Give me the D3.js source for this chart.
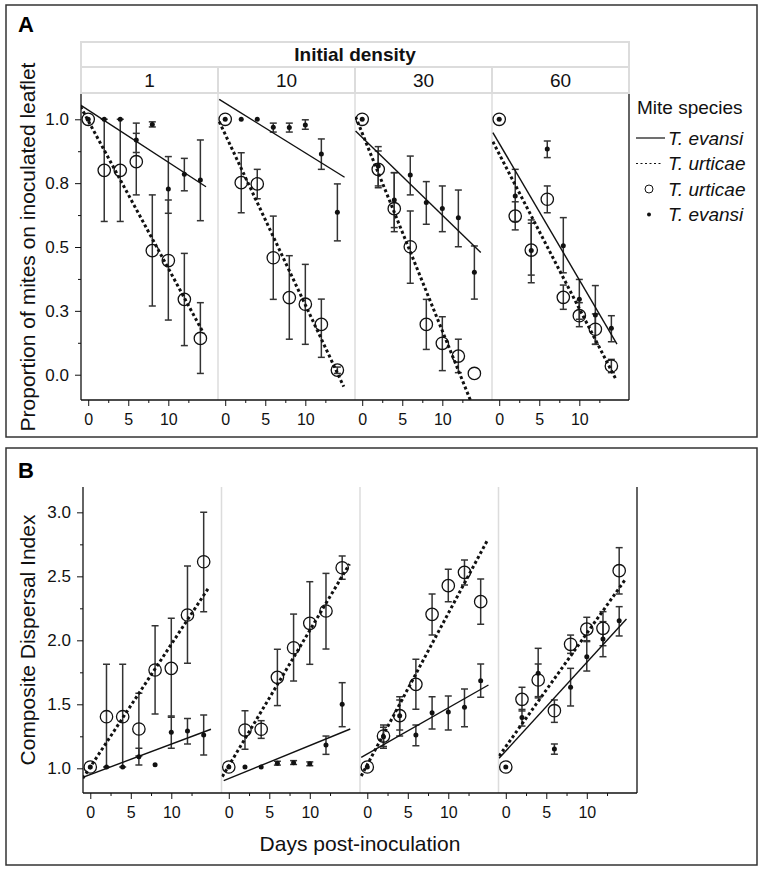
<!DOCTYPE html>
<html><head><meta charset="utf-8">
<script src="https://cdn.jsdelivr.net/npm/d3@7"></script>
<style>
body{margin:0;background:#fff;}
svg{display:block;font-family:"Liberation Sans",Arial,Helvetica,sans-serif;}
</style></head><body>
<svg id="chart" width="762" height="870"></svg>
<script>
// ---------------- DATA ----------------
const densities = ["1","10","30","60"];
const days = [0,2,4,6,8,10,12,14];
const xMajorTicks = [0,5,10];
const xMinorTicks = [2.5,7.5,12.5];

// Panel A: proportion of mites on inoculated leaflet
const aTicks = [0,0.25,0.5,0.75,1.0];
const aTickLabels = ["0.0","0.3","0.5","0.8","1.0"];
const aMinor = [0.125,0.375,0.625,0.875];

const aUrt = [
  [1.0,0.80,0.80,0.834,0.486,0.447,0.295,0.142],
  [1.0,0.752,0.747,0.458,0.302,0.276,0.197,0.018],
  [1.0,0.804,0.65,0.501,0.197,0.123,0.073,0.005],
  [1.0,0.621,0.488,0.687,0.303,0.231,0.178,0.034]];
const aUrtLo = [
  [null,0.60,0.60,0.704,0.269,0.214,0.114,0.005],
  [null,0.634,0.689,0.295,0.139,0.119,0.068,0.005],
  [null,0.739,0.56,0.358,0.099,0.016,0.008,null],
  [null,0.567,0.39,0.634,0.256,0.188,0.119,0.008]];
const aUrtHi = [
  [null,1.0,1.0,0.945,0.704,0.684,0.475,0.282],
  [null,0.869,0.804,0.621,0.466,0.432,0.296,0.03],
  [null,0.876,0.791,0.641,0.295,0.227,0.139,null],
  [null,0.677,0.593,0.739,0.351,0.282,0.238,0.06]];
const aEva = [
  [1.0,1.0,1.0,0.919,0.98,0.727,0.785,0.762],
  [1.0,1.0,1.0,0.969,0.968,0.978,0.864,0.636],
  [1.0,0.817,0.684,0.782,0.674,0.651,0.615,0.401],
  [1.0,0.70,0.486,0.884,0.505,0.295,0.234,0.182]];
const aEvaLo = [
  [null,null,null,0.87,0.97,0.632,0.72,0.603],
  [null,null,null,0.95,0.95,0.961,0.804,0.524],
  [null,0.732,0.576,0.704,0.589,0.56,0.501,0.296],
  [null,0.60,0.36,0.85,0.399,0.217,0.119,0.129]];
const aEvaHi = [
  [null,null,null,0.985,0.99,0.854,0.847,0.919],
  [null,null,null,0.985,0.985,0.998,0.923,0.747],
  [null,0.893,0.791,0.856,0.756,0.739,0.723,0.504],
  [null,0.804,0.606,0.915,0.615,0.373,0.349,0.231]];
// fitted lines: [[day, value],[day, value]]
const aLineEva = [
  [[-0.96,1.056],[14.7,0.736]],
  [[-0.75,1.078],[14.9,0.773]],
  [[-0.83,0.954],[14.8,0.478]],
  [[-0.79,0.948],[14.7,0.12]]];
const aLineUrt = [
  [[-0.96,1.05],[14.4,0.162]],
  [[-0.75,0.991],[14.8,-0.047]],
  [[-0.83,1.01],[14.8,-0.20]],
  [[-0.79,0.912],[14.5,-0.014]]];

// Panel B: composite dispersal index
const bTicks = [1.0,1.5,2.0,2.5,3.0];
const bTickLabels = ["1.0","1.5","2.0","2.5","3.0"];
const bMinor = [1.25,1.75,2.25,2.75];

const bUrt = [
  [1.01,1.403,1.403,1.307,1.768,1.781,2.198,2.614],
  [1.01,1.299,1.305,1.711,1.942,2.133,2.229,2.567],
  [1.01,1.252,1.411,1.656,2.203,2.427,2.531,2.302],
  [1.01,1.539,1.69,1.45,1.969,2.088,2.094,2.544]];
const bUrtLo = [
  [null,1.01,1.01,1.096,1.424,1.398,1.82,2.224],
  [null,1.148,1.234,1.49,1.682,1.8125,1.932,2.477],
  [null,1.156,1.252,1.461,2.041,2.302,2.432,2.125],
  [null,1.448,1.56,1.359,1.898,1.997,1.958,2.362]];
const bUrtHi = [
  [null,1.8125,1.8125,1.586,2.114,2.172,2.58,3.0],
  [null,1.45,1.372,1.93,2.205,2.458,2.523,2.659],
  [null,1.338,1.56,1.852,2.362,2.555,2.627,2.479],
  [null,1.633,1.815,1.534,2.041,2.18,2.224,2.724]];
const bEva = [
  [1.01,1.01,1.01,1.09,1.028,1.281,1.291,1.26],
  [1.01,1.01,1.01,1.039,1.044,1.036,1.182,1.5],
  [1.01,1.247,1.411,1.26,1.435,1.44,1.477,1.685],
  [1.01,1.396,1.742,1.151,1.633,1.872,2.01,2.153]];
const bEvaLo = [
  [null,null,null,1.026,null,1.156,1.19,1.104],
  [null,null,null,1.025,1.03,1.02,1.109,1.325],
  [null,1.17,1.299,1.177,1.307,1.30,1.325,1.555],
  [null,1.33,1.55,1.11,1.487,1.76,1.872,2.034]];
const bEvaHi = [
  [null,null,null,1.156,null,1.409,1.39,1.416],
  [null,null,null,1.055,1.06,1.05,1.252,1.669],
  [null,1.32,1.534,1.338,1.56,1.565,1.62,1.815],
  [null,1.46,1.9375,1.19,1.781,1.99,2.146,2.263]];
const bLineEva = [
  [[-0.92,0.93],[14.9,1.305]],
  [[-0.625,0.903],[15.0,1.307]],
  [[-0.75,1.086],[14.96,1.651]],
  [[-0.83,1.078],[14.9,2.166]]];
const bLineUrt = [
  [[-0.92,0.922],[14.7,2.419]],
  [[-0.8,0.935],[14.9,2.596]],
  [[-0.75,0.94],[14.8,2.778]],
  [[-0.83,1.096],[14.8,2.479]]];

const legendTitle = "Mite species";
const legendItems = [
  {label:"T. evansi", kind:"solid"},
  {label:"T. urticae", kind:"dotted"},
  {label:"T. urticae", kind:"circle"},
  {label:"T. evansi", kind:"dot"}];

// ---------------- DRAWING ----------------
const svg = d3.select("#chart");
const ink = "#111";
const errInk = "#333";
const sepInk = "#dcdcdc";
const xDomain = [-0.9, 16.2];

// frames
svg.append("rect").attr("x",6).attr("y",5).attr("width",751).attr("height",432)
  .attr("fill","none").attr("stroke","#333").attr("stroke-width",1.5);
svg.append("rect").attr("x",6).attr("y",448).attr("width",751).attr("height",417)
  .attr("fill","none").attr("stroke","#333").attr("stroke-width",1.5);
svg.append("text").attr("x",18).attr("y",32).attr("font-size",22).attr("font-weight","bold").text("A");
svg.append("text").attr("x",18).attr("y",478).attr("font-size",22).attr("font-weight","bold").text("B");

let clipId = 0;
function drawPanel(cfg){
  const g = svg.append("g");
  const fw = (cfg.right - cfg.left)/4;
  const y = d3.scaleLinear().domain(cfg.yDomain).range([cfg.bottom, cfg.top]);

  // facet separators
  for(let i=1;i<4;i++){
    g.append("line").attr("x1",cfg.left+i*fw).attr("x2",cfg.left+i*fw)
      .attr("y1",cfg.top).attr("y2",cfg.bottom).attr("stroke",sepInk).attr("stroke-width",1.5);
  }

  // y axis
  const yAx = g.append("g").attr("transform",`translate(${cfg.left},0)`)
    .call(d3.axisLeft(y).tickValues(cfg.yTicks).tickFormat((d,i)=>cfg.yLabels[i]).tickSize(6).tickPadding(6));
  yAx.select(".domain").remove();
  yAx.selectAll("text").attr("font-size",17).attr("font-family","Liberation Sans, Arial, sans-serif").attr("fill",ink);
  yAx.selectAll("line").attr("stroke",ink);
  const yMin = g.append("g").attr("transform",`translate(${cfg.left},0)`)
    .call(d3.axisLeft(y).tickValues(cfg.yMinor).tickFormat("").tickSize(3));
  yMin.select(".domain").remove();
  yMin.selectAll("line").attr("stroke",ink);

  // axis lines
  g.append("line").attr("x1",cfg.left).attr("x2",cfg.left).attr("y1",cfg.top).attr("y2",cfg.bottom)
    .attr("stroke",ink).attr("stroke-width",1.3);
  g.append("line").attr("x1",cfg.left).attr("x2",cfg.right).attr("y1",cfg.bottom).attr("y2",cfg.bottom)
    .attr("stroke",ink).attr("stroke-width",1.3);
  g.append("line").attr("x1",cfg.right).attr("x2",cfg.right).attr("y1",cfg.top).attr("y2",cfg.bottom)
    .attr("stroke",ink).attr("stroke-width",1.3);

  for(let f=0; f<4; f++){
    const fl = cfg.left + f*fw, fr = fl + fw;
    const x = d3.scaleLinear().domain(xDomain).range([fl, fr]);
    const xa = g.append("g").attr("transform",`translate(0,${cfg.bottom})`)
      .call(d3.axisBottom(x).tickValues(xMajorTicks).tickSize(6).tickPadding(8));
    xa.select(".domain").remove();
    xa.selectAll("text").attr("font-size",16).attr("font-family","Liberation Sans, Arial, sans-serif").attr("fill",ink);
    xa.selectAll("line").attr("stroke",ink);
    const xm = g.append("g").attr("transform",`translate(0,${cfg.bottom})`)
      .call(d3.axisBottom(x).tickValues(xMinorTicks).tickFormat("").tickSize(3));
    xm.select(".domain").remove();
    xm.selectAll("line").attr("stroke",ink);

    const id = "clip"+(clipId++);
    g.append("clipPath").attr("id",id).append("rect")
      .attr("x",fl).attr("y",cfg.top).attr("width",fw).attr("height",cfg.bottom-cfg.top);
    const pg = g.append("g").attr("clip-path",`url(#${id})`);

    // error bars
    const bars = [];
    days.forEach((d,i)=>{
      if(cfg.urtLo[f][i]!=null) bars.push({d, lo:cfg.urtLo[f][i], hi:cfg.urtHi[f][i]});
      if(cfg.evaLo[f][i]!=null) bars.push({d, lo:cfg.evaLo[f][i], hi:cfg.evaHi[f][i]});
    });
    const eb = pg.selectAll(null).data(bars).enter().append("g").attr("stroke",errInk).attr("stroke-width",1.5);
    eb.append("line").attr("x1",b=>x(b.d)).attr("x2",b=>x(b.d)).attr("y1",b=>y(b.lo)).attr("y2",b=>y(b.hi));
    eb.append("line").attr("x1",b=>x(b.d)-3.5).attr("x2",b=>x(b.d)+3.5).attr("y1",b=>y(b.lo)).attr("y2",b=>y(b.lo));
    eb.append("line").attr("x1",b=>x(b.d)-3.5).attr("x2",b=>x(b.d)+3.5).attr("y1",b=>y(b.hi)).attr("y2",b=>y(b.hi));

    // fitted lines
    const ln = d3.line().x(p=>x(p[0])).y(p=>y(p[1]));
    pg.append("path").attr("d",ln(cfg.lineEva[f])).attr("fill","none").attr("stroke",ink).attr("stroke-width",1.4);
    pg.append("path").attr("d",ln(cfg.lineUrt[f])).attr("fill","none").attr("stroke",ink)
      .attr("stroke-width",3).attr("stroke-dasharray","3,2.6");

    // points
    pg.selectAll(null).data(days.map((d,i)=>({d,v:cfg.urt[f][i]}))).enter().append("circle")
      .attr("cx",p=>x(p.d)).attr("cy",p=>y(p.v)).attr("r",6.2)
      .attr("fill","none").attr("stroke",ink).attr("stroke-width",1.3);
    pg.selectAll(null).data(days.map((d,i)=>({d,v:cfg.eva[f][i]}))).enter().append("circle")
      .attr("cx",p=>x(p.d)).attr("cy",p=>y(p.v)).attr("r",2.5).attr("fill",ink);
  }
  return {fw};
}

// Panel A
const A = {left:81, right:629, top:94, bottom:400};
drawPanel(Object.assign({}, A, {
  yDomain:[-0.099,1.099], yTicks:aTicks, yLabels:aTickLabels, yMinor:aMinor,
  urt:aUrt, urtLo:aUrtLo, urtHi:aUrtHi, eva:aEva, evaLo:aEvaLo, evaHi:aEvaHi,
  lineEva:aLineEva, lineUrt:aLineUrt}));

// strips
const stripFw = (A.right - A.left)/4;
svg.append("rect").attr("x",A.left).attr("y",42).attr("width",A.right-A.left).attr("height",25)
  .attr("fill","#fff").attr("stroke",sepInk).attr("stroke-width",2);
svg.append("text").attr("x",(A.left+A.right)/2).attr("y",61).attr("text-anchor","middle")
  .attr("font-size",19).attr("font-weight","bold").attr("fill",ink).text("Initial density");
densities.forEach((lab,i)=>{
  svg.append("rect").attr("x",A.left+i*stripFw).attr("y",67).attr("width",stripFw).attr("height",26)
    .attr("fill","#fff").attr("stroke",sepInk).attr("stroke-width",2);
  svg.append("text").attr("x",A.left+(i+0.5)*stripFw).attr("y",87).attr("text-anchor","middle")
    .attr("font-size",19).attr("fill",ink).text(lab);
});

// y title A
svg.append("text").attr("transform","translate(35,247) rotate(-90)").attr("text-anchor","middle")
  .attr("font-size",21).attr("fill",ink).text("Proportion of mites on inoculated leaflet");

// legend
const lg = svg.append("g");
lg.append("text").attr("x",637).attr("y",114).attr("font-size",19).attr("fill",ink).text(legendTitle);
legendItems.forEach((it,i)=>{
  const cy = 138 + i*25.5;
  if(it.kind==="solid") lg.append("line").attr("x1",636).attr("x2",665).attr("y1",cy).attr("y2",cy).attr("stroke",ink).attr("stroke-width",1.2);
  if(it.kind==="dotted") lg.append("line").attr("x1",636).attr("x2",662).attr("y1",cy).attr("y2",cy).attr("stroke",ink).attr("stroke-width",1).attr("stroke-dasharray","2,2.5");
  if(it.kind==="circle") lg.append("circle").attr("cx",649).attr("cy",cy).attr("r",4).attr("fill","none").attr("stroke",ink).attr("stroke-width",1);
  if(it.kind==="dot") lg.append("circle").attr("cx",649).attr("cy",cy).attr("r",2).attr("fill",ink);
  lg.append("text").attr("x",668).attr("y",cy+6.5).attr("font-size",19).attr("font-style","italic").attr("fill",ink).text(it.label);
});

// Panel B
const B = {left:83, right:637, top:487, bottom:793};
drawPanel(Object.assign({}, B, {
  yDomain:[0.807,3.198], yTicks:bTicks, yLabels:bTickLabels, yMinor:bMinor,
  urt:bUrt, urtLo:bUrtLo, urtHi:bUrtHi, eva:bEva, evaLo:bEvaLo, evaHi:bEvaHi,
  lineEva:bLineEva, lineUrt:bLineUrt}));

svg.append("text").attr("transform","translate(35,640) rotate(-90)").attr("text-anchor","middle")
  .attr("font-size",21).attr("fill",ink).text("Composite Dispersal Index");
svg.append("text").attr("x",(B.left+B.right)/2).attr("y",851).attr("text-anchor","middle")
  .attr("font-size",21).attr("fill",ink).text("Days post-inoculation");
</script>
</body></html>
